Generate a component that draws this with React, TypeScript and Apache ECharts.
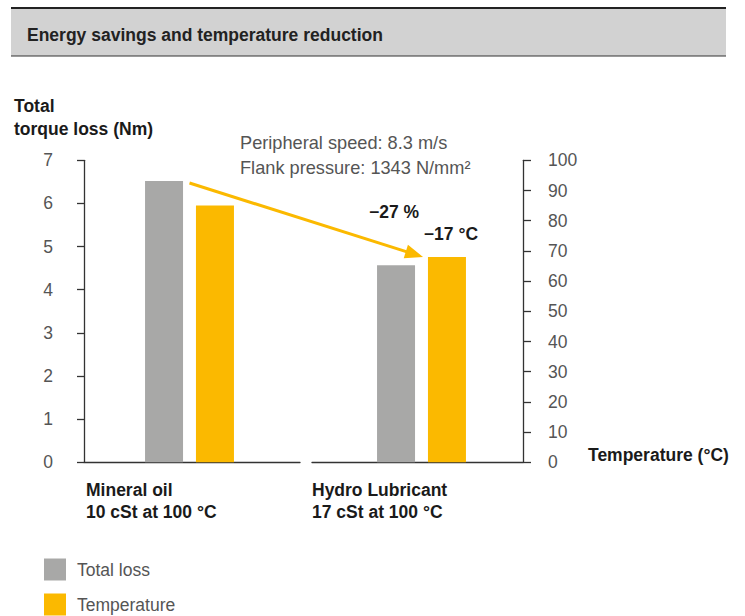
import React, { useEffect, useRef } from 'react';
import * as echarts from 'echarts';

// ---- data ----
const categories = ['Mineral oil', 'Hydro Lubricant'];
const categorySubLabels = ['10 cSt at 100 °C', '17 cSt at 100 °C'];
const seriesNames = ['Total loss', 'Temperature'];
const totalLoss = [6.52, 4.57]; // Nm
const temperature = [85, 68]; // °C
const torqueAxis = { min: 0, max: 7, interval: 1 };
const tempAxis = { min: 0, max: 100, interval: 10 };
const changeLabels = ['−27 %', '−17 °C'];
const titleText = 'Energy savings and temperature reduction';
const noteLines = ['Peripheral speed: 8.3 m/s', 'Flank pressure: 1343 N/mm²'];
const leftAxisName = ['Total', 'torque loss (Nm)'];
const rightAxisName = 'Temperature (°C)';

const FONT = '"Liberation Sans", Arial, Helvetica, sans-serif';
const GREY = '#a8a8a7';
const YELLOW = '#fbb900';
const AXIS = '#333333';
const LABEL = '#555555';
const DARK = '#1a1a1a';
const FS = 17.5;
const GRID_TOP = 160.3;
const GRID_H = 302;

export default function App() {
  const ref = useRef<HTMLDivElement>(null);
  useEffect(() => {
    document.body.style.margin = '0';
    document.body.style.overflow = 'hidden';
    if (!ref.current) return;
    const chart = echarts.init(ref.current, undefined, { renderer: 'svg' });
    const axisLineStyle = { color: AXIS, width: 1.3 };
    const labelText = { fontFamily: FONT, fontSize: FS, fontWeight: 'bold' as const, color: DARK };
    chart.setOption({
      animation: false,
      textStyle: { fontFamily: FONT },
      grid: [
        { left: 84, top: GRID_TOP, width: 216, height: GRID_H },
        { left: 312, top: GRID_TOP, width: 211, height: GRID_H },
        { left: 73.5, top: GRID_TOP, width: 464, height: GRID_H },
      ],
      xAxis: [
        { gridIndex: 0, type: 'category', data: [''], axisLine: { lineStyle: axisLineStyle }, axisTick: { show: false }, axisLabel: { show: false } },
        { gridIndex: 1, type: 'category', data: [''], axisLine: { lineStyle: axisLineStyle }, axisTick: { show: false }, axisLabel: { show: false } },
        { gridIndex: 2, type: 'category', data: categories, show: false },
      ],
      yAxis: [
        {
          gridIndex: 0, type: 'value', position: 'left', ...torqueAxis,
          axisLine: { show: true, lineStyle: axisLineStyle },
          axisTick: { show: true, length: 7, lineStyle: axisLineStyle },
          axisLabel: { margin: 31, color: LABEL, fontSize: FS, fontFamily: FONT },
          splitLine: { show: false },
        },
        {
          gridIndex: 1, type: 'value', position: 'right', ...tempAxis,
          axisLine: { show: true, lineStyle: axisLineStyle },
          axisTick: { show: true, length: 8, lineStyle: axisLineStyle },
          axisLabel: { margin: 25, color: LABEL, fontSize: FS, fontFamily: FONT },
          splitLine: { show: false },
        },
        { gridIndex: 2, type: 'value', position: 'left', ...torqueAxis, show: false, splitLine: { show: false } },
        { gridIndex: 2, type: 'value', position: 'right', ...tempAxis, show: false, splitLine: { show: false } },
      ],
      legend: {
        orient: 'vertical', left: 44, top: 558.5, padding: 0,
        itemWidth: 22, itemHeight: 22, itemGap: 13, icon: 'rect',
        selectedMode: false,
        data: seriesNames,
        textStyle: { fontSize: FS, color: LABEL, fontFamily: FONT, padding: [2, 0, 0, 6] },
      },
      series: [
        {
          name: seriesNames[0], type: 'bar', xAxisIndex: 2, yAxisIndex: 2,
          barWidth: 38, barGap: '34%',
          itemStyle: { color: GREY },
          data: totalLoss.map((v, i) =>
            i === 1
              ? { value: v, label: { show: true, position: 'top', distance: 44, offset: [-2, 0], formatter: changeLabels[0], ...labelText } }
              : v
          ),
        },
        {
          name: seriesNames[1], type: 'bar', xAxisIndex: 2, yAxisIndex: 3,
          barWidth: 38, barGap: '34%',
          itemStyle: { color: YELLOW },
          data: temperature.map((v, i) =>
            i === 1
              ? { value: v, label: { show: true, position: 'top', distance: 14, offset: [4, 0], formatter: changeLabels[1], ...labelText } }
              : v
          ),
        },
      ],
    });

    // arrow from top of first total-loss bar to top of second temperature bar
    const p0 = chart.convertToPixel({ xAxisIndex: 2, yAxisIndex: 2 } as any, [0, totalLoss[0]]) as number[];
    const p1 = chart.convertToPixel({ xAxisIndex: 2, yAxisIndex: 3 } as any, [1, temperature[1]]) as number[];
    const sx = p0[0], sy = p0[1] + 2;
    const tx = p1[0] + 1.5, ty = p1[1];
    const dx = tx - sx, dy = ty - sy;
    const len = Math.sqrt(dx * dx + dy * dy);
    const ux = dx / len, uy = dy / len;
    const headLen = 18, headHalf = 7;
    const bx = tx - ux * headLen, by = ty - uy * headLen;
    const nx = -uy, ny = ux;

    const txt = (x: number, y: number, text: string, opts: any = {}) => ({
      type: 'text', x, y, silent: true,
      style: { text, fontFamily: FONT, fontSize: FS, fill: LABEL, verticalAlign: 'middle', align: 'left', ...opts },
    });

    chart.setOption({
      graphic: [
        { type: 'rect', silent: true, shape: { x: 11, y: 8, width: 715, height: 48 }, style: { fill: '#d2d2d2' } },
        { type: 'line', silent: true, shape: { x1: 11, y1: 8, x2: 726, y2: 8 }, style: { stroke: '#222', lineWidth: 2 } },
        { type: 'line', silent: true, shape: { x1: 11, y1: 56, x2: 726, y2: 56 }, style: { stroke: '#333', lineWidth: 1.2 } },
        txt(27, 34.5, titleText, { fontSize: 17.5, fontWeight: 'bold', fill: '#222' }),
        txt(14, 106, leftAxisName[0], { fontWeight: 'bold', fill: DARK }),
        txt(14, 128.5, leftAxisName[1], { fontWeight: 'bold', fill: DARK }),
        txt(588, 455, rightAxisName, { fontWeight: 'bold', fill: DARK }),
        txt(240, 143, noteLines[0], { fontSize: 18.2 }),
        txt(240, 168, noteLines[1], { fontSize: 18.2 }),
        txt(86, 490, categories[0], { fontWeight: 'bold', fill: DARK }),
        txt(86, 512, categorySubLabels[0], { fontWeight: 'bold', fill: DARK }),
        txt(312, 490, categories[1], { fontWeight: 'bold', fill: DARK }),
        txt(312, 512, categorySubLabels[1], { fontWeight: 'bold', fill: DARK }),
        {
          type: 'line', silent: true,
          shape: { x1: sx, y1: sy, x2: bx + ux * 2, y2: by + uy * 2 },
          style: { stroke: YELLOW, lineWidth: 3 },
        },
        {
          type: 'polygon', silent: true,
          shape: { points: [[tx, ty], [bx + nx * headHalf, by + ny * headHalf], [bx - nx * headHalf, by - ny * headHalf]] },
          style: { fill: YELLOW },
        },
      ],
    });

    return () => chart.dispose();
  }, []);
  return <div ref={ref} style={{ width: 745, height: 616 }} />;
}
